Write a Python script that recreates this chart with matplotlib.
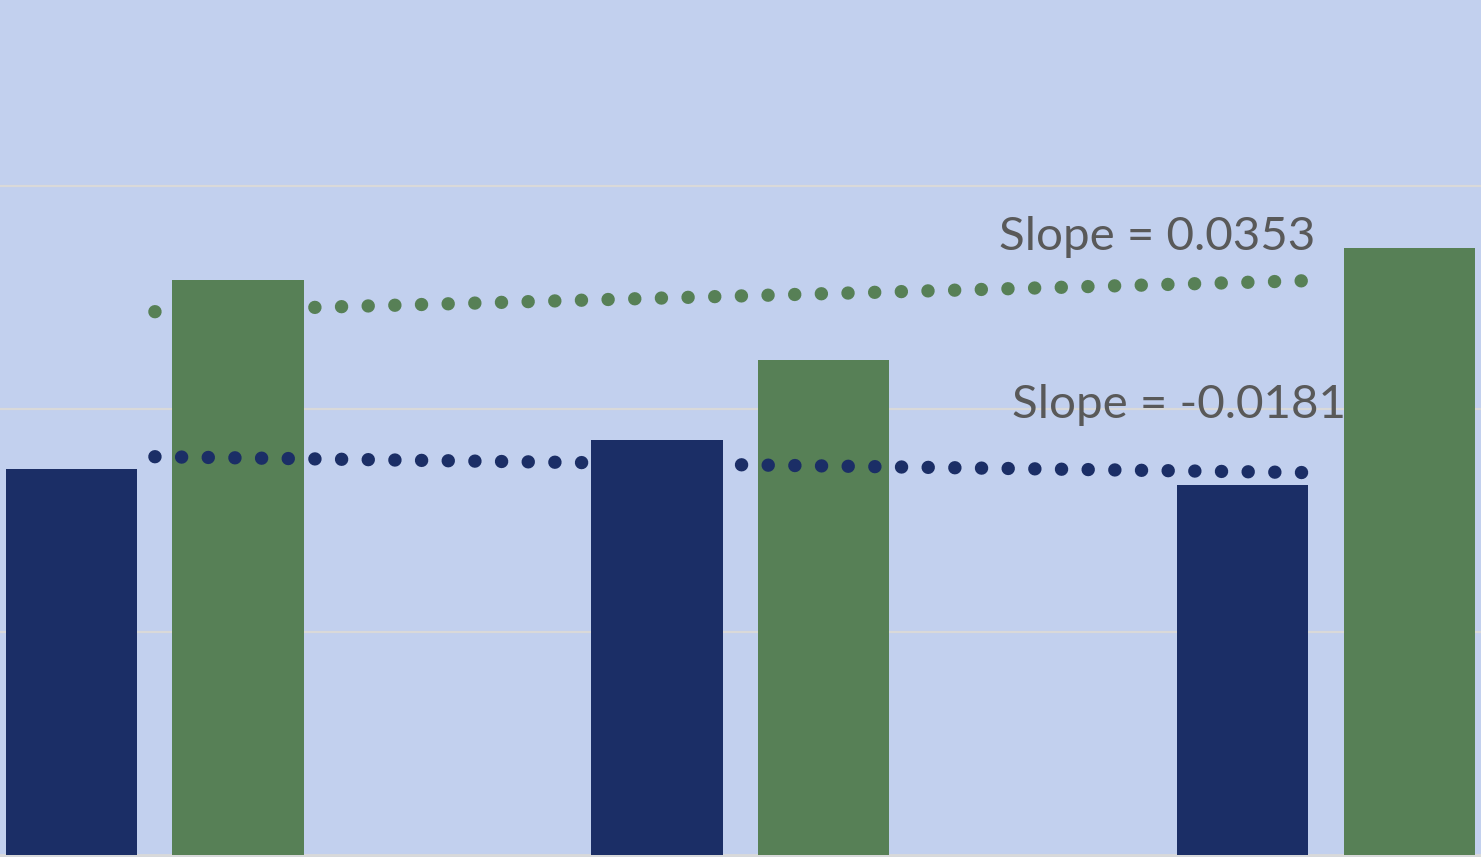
import numpy as np
import matplotlib
matplotlib.use('Agg')
import matplotlib.pyplot as plt

# three periods, two series
categories = [1, 2, 3]
navy_vals = [0.866, 0.930, 0.8298]
green_vals = [1.290, 1.110, 1.3606]

bg = '#C2D0EE'
navy = '#1B2E66'
green = '#578056'
grid_col = '#D9D9D9'
txt_col = '#595959'

fig = plt.figure(figsize=(14.81, 8.57), dpi=100)
fig.patch.set_facecolor(bg)
ax = fig.add_axes([0, 0, 1, 1])
ax.set_facecolor(bg)

x = np.array(categories, dtype=float)
w = 0.2246
off = 0.1422
ax.bar(x - off, navy_vals, width=w, color=navy, zorder=3)
ax.bar(x + off, green_vals, width=w, color=green, zorder=3)

# linear trendlines with slope labels
for vals, col, lab_xy in [(green_vals, green, (2.4416, 1.3564)),
                          (navy_vals, navy, (2.4638, 0.9807))]:
    k, b = np.polyfit(x, vals, 1)
    xs = np.array([1.0, 3.0])
    ax.plot(xs, k * xs + b, color=col, lw=9.6, linestyle=(0, (0.01, 1.99)),
            dash_capstyle='round', zorder=4)
    ax.text(lab_xy[0], lab_xy[1], 'Slope = %.4f' % k, color=txt_col,
            fontsize=34.2, family='Lato', ha='left', va='baseline', zorder=5)

for yg in [0.5, 1.0, 1.5]:
    ax.axhline(yg, color=grid_col, lw=1.6, zorder=1)
ax.axhline(0, color=grid_col, lw=2, zorder=2)

ax.set_xlim(0.7355, 3.2647)
ax.set_ylim(-0.0034, 1.9165)
ax.axis('off')

plt.savefig('out.png', dpi=100, facecolor=bg)
